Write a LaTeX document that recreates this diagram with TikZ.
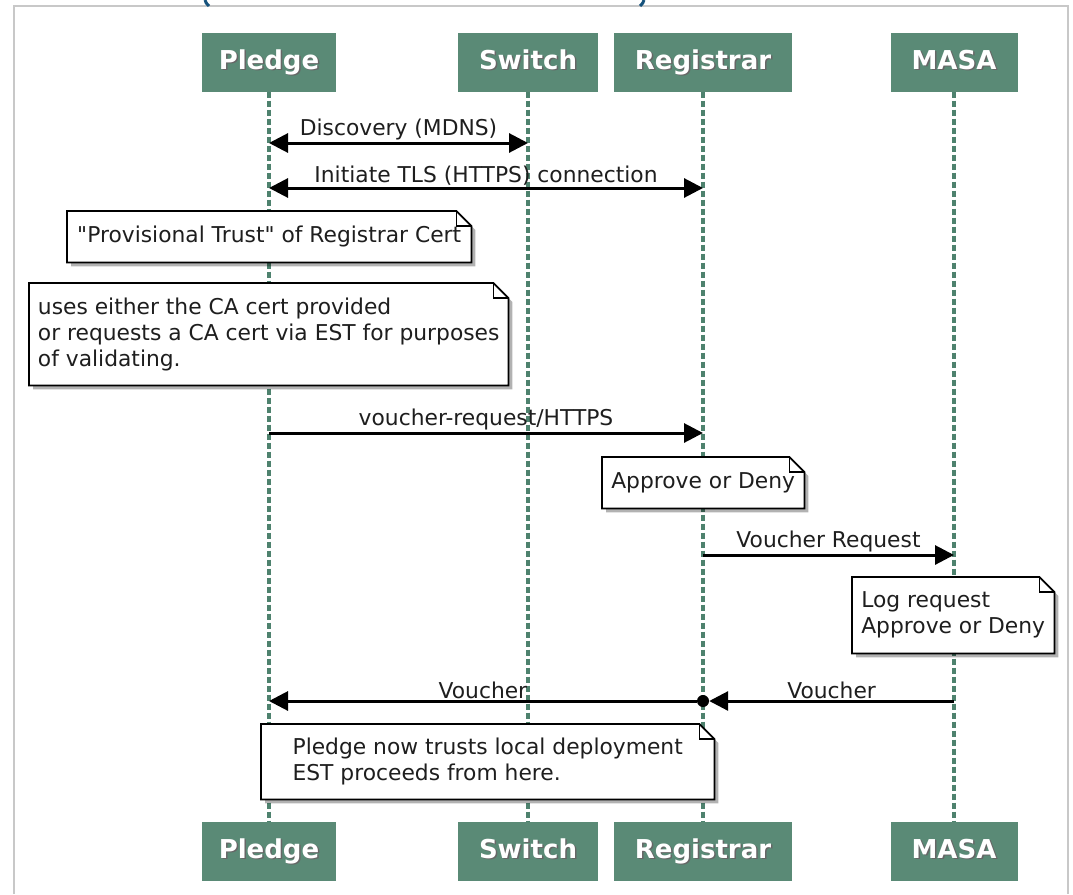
\documentclass[tikz,border=0pt]{standalone}
\usepackage{fontspec}
\setmainfont{DejaVu Sans}
\usepackage{tikz}
\usetikzlibrary{arrows.meta, calc, backgrounds}

\definecolor{boxteal}{RGB}{90,138,118}
\definecolor{lineteal}{RGB}{78,130,110}
\definecolor{notetext}{RGB}{30,30,30}
\definecolor{framegray}{RGB}{200,200,200}
\definecolor{cutblue}{RGB}{22,82,124}

\tikzset{
    actor/.style={fill=boxteal, minimum height=59pt, inner sep=0pt,
        text height=19pt, text depth=5pt,
        font=\fontsize{26}{30}\selectfont\bfseries},
    lifeline/.style={lineteal, line width=3.4pt, dash pattern=on 6pt off 3pt},
    msg/.style={line width=3pt, black},
    msglabel/.style={above, inner sep=1pt, text=notetext,
        font=\fontsize{21.8}{26}\selectfont},
    note/.style={anchor=north west, align=left, inner xsep=6pt, inner ysep=0pt,
        text=notetext, font=\fontsize{21.8}{26}\selectfont},
    notepaper/.style={fill=white, draw=black, line width=1.8pt},
    hub/.style={circle, fill=black, inner sep=0pt, minimum size=12pt},
    >={Triangle[length=19pt, width=19pt]}
}

% white name with a dark drop shadow
\newcommand{\shadowtext}[1]{\makebox[0pt][l]{\hspace{1.5pt}\raisebox{-1.5pt}{\color{black!60}#1}}{\color{white}#1}}

% paper, shadow and dog-ear behind a note node
\newcommand{\foldnote}[1]{%
    \begin{scope}[on background layer]
        \fill[black, opacity=.3] ($(#1.north west)+(4,4)$) -- ($(#1.north east)+(-11,4)$)
            -- ($(#1.north east)+(4,19)$) -- ($(#1.south east)+(4,4)$) -- ($(#1.south west)+(4,4)$) -- cycle;
        \filldraw[notepaper] (#1.north west) -- ($(#1.north east)+(-15,0)$)
            -- ($(#1.north east)+(0,15)$) -- (#1.south east) -- (#1.south west) -- cycle;
        \draw[notepaper, fill=none, line width=1.2pt] ($(#1.north east)+(-15,0)$) |- ($(#1.north east)+(0,15)$);
    \end{scope}}

\begin{document}
\begin{tikzpicture}[x=1pt, y=-1pt]
    \useasboundingbox (0,0) rectangle (1073,894);

    % frame and the cut-off title above it
    \draw[framegray, line width=1.5pt] (14,894) |- (1068,6) -- (1068,894);
    \draw[cutblue, line width=3pt] (205,0) .. controls (206,3) .. (209,6);
    \draw[cutblue, line width=3pt] (644,0) .. controls (643,3) .. (640,6);

    % participants
    \node[actor, minimum width=134pt] (pledgeTop) at (269,62) {\shadowtext{Pledge}};
    \node[actor, minimum width=140pt] (switchTop) at (528,62) {\shadowtext{Switch}};
    \node[actor, minimum width=178pt] (registrarTop) at (703,62) {\shadowtext{Registrar}};
    \node[actor, minimum width=127pt] (masaTop) at (954,62) {\shadowtext{MASA}};

    \node[actor, minimum width=134pt] (pledgeBot) at (269,851) {\shadowtext{Pledge}};
    \node[actor, minimum width=140pt] (switchBot) at (528,851) {\shadowtext{Switch}};
    \node[actor, minimum width=178pt] (registrarBot) at (703,851) {\shadowtext{Registrar}};
    \node[actor, minimum width=127pt] (masaBot) at (954,851) {\shadowtext{MASA}};

    % lifelines
    \begin{scope}[on background layer]
        \draw[lifeline] (pledgeTop) -- (pledgeBot);
        \draw[lifeline] (switchTop) -- (switchBot);
        \draw[lifeline] (registrarTop) -- (registrarBot);
        \draw[lifeline] (masaTop) -- (masaBot);
    \end{scope}

    % message rows
    \coordinate (disc) at (0,143);
    \coordinate (tls) at (0,188);
    \coordinate (vreq) at (0,433);
    \coordinate (vmasa) at (0,555);
    \coordinate (vback) at (0,701);

    \draw[msg, <->] (pledgeTop |- disc) -- node[msglabel] {Discovery (MDNS)} (switchTop |- disc);
    \draw[msg, <->] (pledgeTop |- tls) -- node[msglabel] {Initiate TLS (HTTPS) connection} (registrarTop |- tls);

    % notes
    \node[note, minimum width=404pt, minimum height=51pt] (trustNote) at (67,211)
        {\textquotedbl Provisional Trust\textquotedbl{} of Registrar Cert};
    \foldnote{trustNote}
    \node[note, minimum width=479pt, minimum height=102pt] (caNote) at (29,283)
        {uses either the CA cert provided\\or requests a CA cert via EST for purposes\\of validating.};
    \foldnote{caNote}

    \draw[msg, ->] (pledgeTop |- vreq) -- node[msglabel] {voucher-request/HTTPS} (registrarTop |- vreq);

    \node[note, minimum width=202pt, minimum height=51pt] (regNote) at (602,457) {Approve or Deny};
    \foldnote{regNote}

    \draw[msg, ->] (registrarTop |- vmasa) -- node[msglabel] {Voucher Request} (masaTop |- vmasa);

    \node[note, minimum width=202pt, minimum height=76pt] (masaNote) at (852,577)
        {Log request\\Approve or Deny};
    \foldnote{masaNote}

    % voucher handed back through the registrar
    \node[hub] (relay) at (registrarTop |- vback) {};
    \draw[msg, ->] (masaTop |- vback) -- node[msglabel] {Voucher} (relay.east);
    \draw[msg, ->] (relay) -- node[msglabel] {Voucher} (pledgeTop |- vback);

    \node[note, minimum width=453pt, minimum height=75pt] (doneNote) at (261,724)
        {Pledge now trusts local deployment\\EST proceeds from here.};
    \foldnote{doneNote}
\end{tikzpicture}
\end{document}
